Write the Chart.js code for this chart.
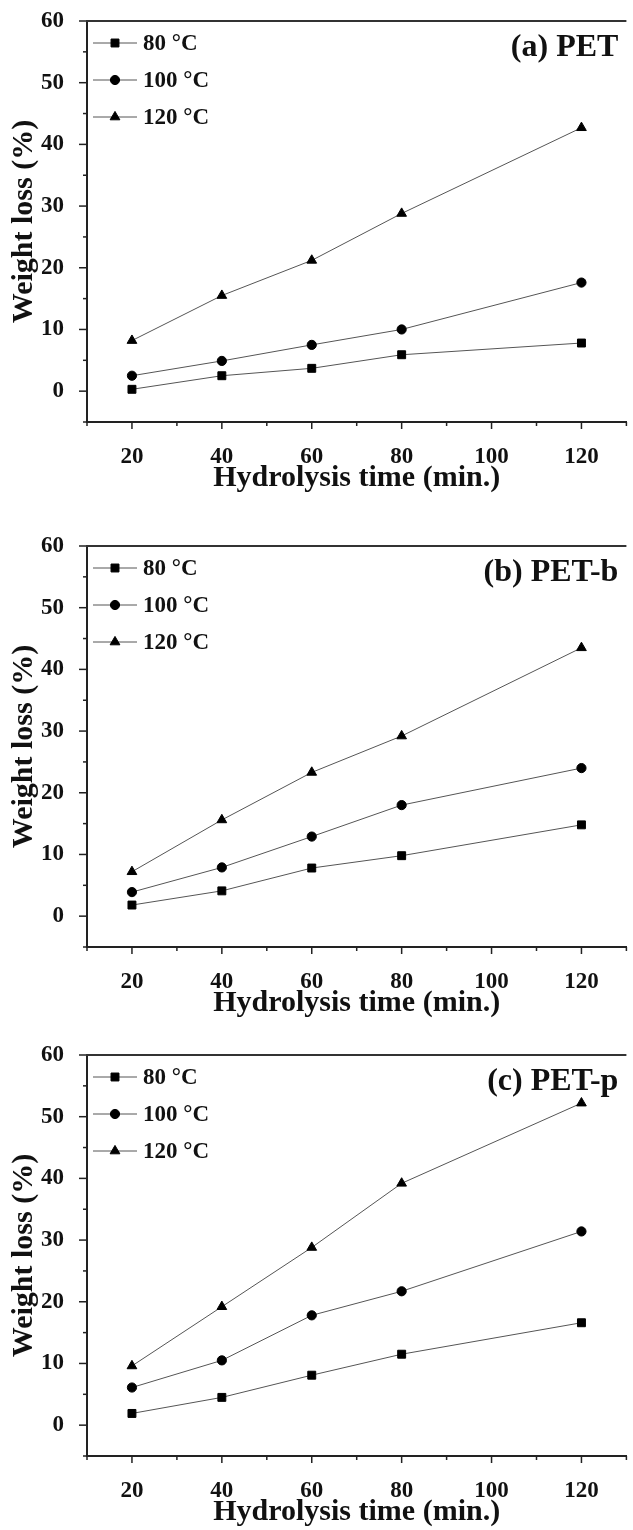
<!DOCTYPE html>
<html>
<head>
<meta charset="utf-8">
<title>Weight loss vs hydrolysis time</title>
<script src="https://cdn.jsdelivr.net/npm/chart.js@4.4.0/dist/chart.umd.min.js"></script>
<style>
    body { margin: 0; background: #fff; }
    .panel { position: absolute; left: 0; }
</style>
</head>
<body>
<canvas id="chartA" class="panel" width="633" height="496" style="top:0px;"></canvas>
<canvas id="chartB" class="panel" width="633" height="496" style="top:525px;"></canvas>
<canvas id="chartC" class="panel" width="633" height="496" style="top:1034px;"></canvas>

<script>
// Datos
const times = [20, 40, 60, 80, 120];
const seriesLabels = ['80 °C', '100 °C', '120 °C'];
const xTickLabels = [20, 40, 60, 80, 100, 120];
const yTickLabels = [0, 10, 20, 30, 40, 50, 60];

// (a) PET
const petLoss80  = [0.3, 2.5, 3.7, 5.9, 7.8];
const petLoss100 = [2.5, 4.9, 7.5, 10.0, 17.6];
const petLoss120 = [8.2, 15.5, 21.2, 28.8, 42.7];

// (b) PET-b
const petbLoss80  = [1.8, 4.1, 7.8, 9.8, 14.8];
const petbLoss100 = [3.9, 7.9, 12.9, 18.0, 24.0];
const petbLoss120 = [7.2, 15.6, 23.3, 29.2, 43.5];

// (c) PET-p
const petpLoss80  = [1.9, 4.5, 8.1, 11.5, 16.6];
const petpLoss100 = [6.1, 10.5, 17.8, 21.7, 31.4];
const petpLoss120 = [9.6, 19.2, 28.8, 39.2, 52.2];

const FONT = '"Liberation Serif", "Times New Roman", serif';
const pointStyles = ['rect', 'circle', 'triangle'];
const pointSizes = [5.6, 4.6, 5.6];

// marcas de los ejes: largas en las etiquetas, cortas en el resto
const tickMarks = {
    id: 'tickMarks',
    afterDraw(chart) {
        const ctx = chart.ctx;
        const { x, y } = chart.scales;
        const area = chart.chartArea;
        ctx.save();
        ctx.strokeStyle = '#222';
        ctx.lineWidth = 1.5;
        x.ticks.forEach(t => {
            const px = x.getPixelForValue(t.value);
            const len = xTickLabels.includes(t.value) ? 7 : 4;
            ctx.beginPath();
            ctx.moveTo(px, area.bottom);
            ctx.lineTo(px, area.bottom + len);
            ctx.stroke();
        });
        y.ticks.forEach(t => {
            const py = y.getPixelForValue(t.value);
            const len = yTickLabels.includes(t.value) ? 8 : 4;
            ctx.beginPath();
            ctx.moveTo(area.left, py);
            ctx.lineTo(area.left - len, py);
            ctx.stroke();
        });
        // línea superior del marco
        ctx.strokeStyle = '#333';
        ctx.lineWidth = 2;
        ctx.beginPath();
        ctx.moveTo(area.left - 1, area.top);
        ctx.lineTo(area.right, area.top);
        ctx.stroke();
        ctx.restore();
    }
};

// leyenda dentro del área: línea + marcador + texto
const insideLegend = {
    id: 'insideLegend',
    afterDraw(chart, args, opts) {
        const ctx = chart.ctx;
        const area = chart.chartArea;
        ctx.save();
        chart.data.datasets.forEach((ds, i) => {
            const yy = area.top + 22 + i * 37;
            ctx.strokeStyle = '#555';
            ctx.lineWidth = 1;
            ctx.beginPath();
            ctx.moveTo(area.left + 6, yy);
            ctx.lineTo(area.left + 50, yy);
            ctx.stroke();
            ctx.fillStyle = '#000';
            ctx.strokeStyle = '#000';
            Chart.helpers.drawPoint(ctx, {
                pointStyle: ds.pointStyle, rotation: 0, radius: ds.pointRadius, borderWidth: 1
            }, area.left + 28, yy);
            ctx.fillStyle = '#111';
            ctx.font = 'bold 23px ' + FONT;
            ctx.textAlign = 'left';
            ctx.textBaseline = 'middle';
            ctx.fillText(ds.label, area.left + 56, yy + 1);
        });
        // etiqueta del panel
        ctx.font = 'bold 32px ' + FONT;
        ctx.textAlign = 'right';
        ctx.fillStyle = '#111';
        ctx.fillText(opts.panel, area.right - 8, area.top + 27);
        ctx.restore();
    }
};

function renderChart(canvasId, panelLabel, series) {
    const ctx = document.getElementById(canvasId).getContext('2d');
    return new Chart(ctx, {
        type: 'line',
        data: {
            datasets: series.map((vals, i) => ({
                label: seriesLabels[i],
                data: times.map((t, k) => ({ x: t, y: vals[k] })),
                borderColor: '#555',
                borderWidth: 1,
                pointStyle: pointStyles[i],
                pointRadius: pointSizes[i],
                pointBackgroundColor: '#000',
                pointBorderColor: '#000',
                pointBorderWidth: 1,
                tension: 0
            }))
        },
        options: {
            responsive: false,
            animation: false,
            devicePixelRatio: 1,
            layout: { padding: { top: 21, right: 0, bottom: 0, left: 0 } },
            plugins: {
                legend: { display: false },
                tooltip: { enabled: false },
                insideLegend: { panel: panelLabel }
            },
            scales: {
                x: {
                    type: 'linear',
                    min: 10,
                    max: 130,
                    // tamaño fijo del eje y sin relleno extra a los lados
                    afterFit: s => { s.height = 74; s.paddingLeft = 0; s.paddingRight = 0; },
                    grid: { display: false },
                    border: { display: true, color: '#222', width: 2 },
                    ticks: {
                        stepSize: 10,
                        autoSkip: false,
                        maxRotation: 0,
                        padding: 13,
                        color: '#111',
                        font: { family: FONT, size: 23, weight: 'bold' },
                        callback: v => xTickLabels.includes(v) ? v : ''
                    },
                    title: {
                        display: true,
                        text: 'Hydrolysis time (min.)',
                        color: '#111',
                        font: { family: FONT, size: 30, weight: 'bold' },
                        padding: { top: 0, bottom: 0 }
                    }
                },
                y: {
                    min: -5,
                    max: 60,
                    afterFit: s => { s.width = 87; s.paddingTop = 0; s.paddingBottom = 0; },
                    grid: { display: false },
                    border: { display: true, color: '#222', width: 2 },
                    ticks: {
                        stepSize: 5,
                        autoSkip: false,
                        padding: 15,
                        color: '#111',
                        font: { family: FONT, size: 23, weight: 'bold' },
                        callback: v => yTickLabels.includes(v) ? v : ''
                    },
                    title: {
                        display: true,
                        text: 'Weight loss (%)',
                        color: '#111',
                        font: { family: FONT, size: 30, weight: 'bold' },
                        padding: { top: 6, bottom: 0 }
                    }
                }
            }
        },
        plugins: [tickMarks, insideLegend]
    });
}

renderChart('chartA', '(a) PET', [petLoss80, petLoss100, petLoss120]);
renderChart('chartB', '(b) PET-b', [petbLoss80, petbLoss100, petbLoss120]);
renderChart('chartC', '(c) PET-p', [petpLoss80, petpLoss100, petpLoss120]);
</script>
</body>
</html>
